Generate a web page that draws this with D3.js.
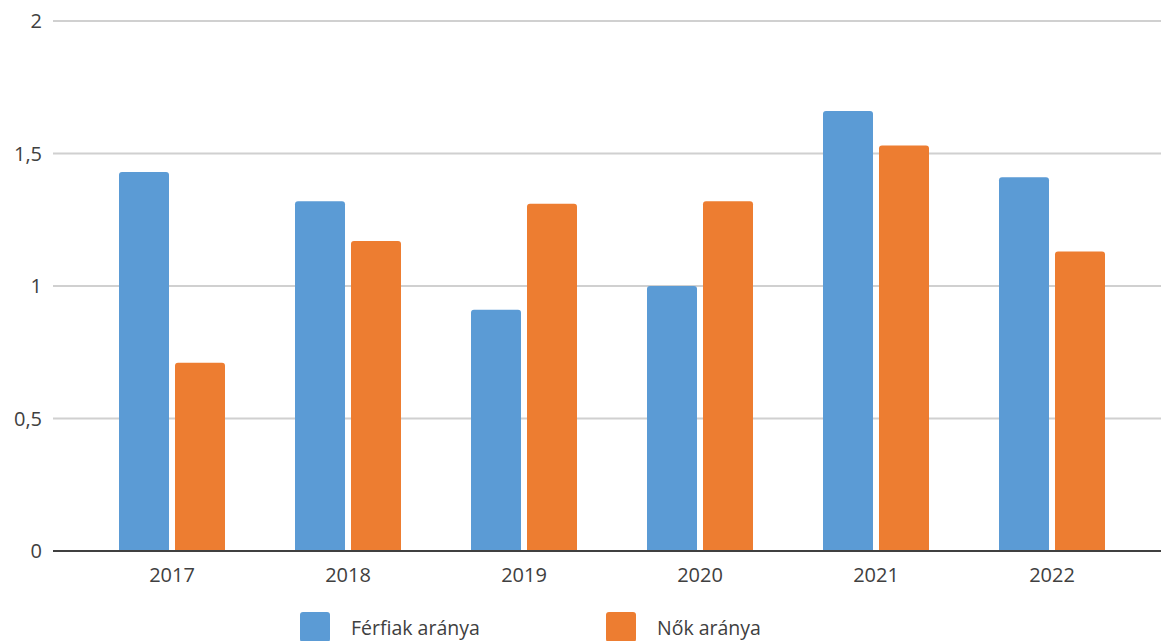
<!DOCTYPE html>
<html><head><meta charset="utf-8">
<script src="https://cdn.jsdelivr.net/npm/d3@7"></script>
<style>body{margin:0;background:#fff}svg{display:block}text{font-family:"Open Sans",sans-serif;fill:#404040}</style>
</head><body><svg id="c" width="1161" height="641"></svg>
<script>
const categories = ["2017","2018","2019","2020","2021","2022"];
const seriesNames = ["Férfiak aránya","Nők aránya"];
const ferfiak = [1.43, 1.32, 0.91, 1.0, 1.66, 1.41];
const nok = [0.71, 1.17, 1.31, 1.32, 1.53, 1.13];
const yTicks = [0, 0.5, 1, 1.5, 2];
const yTickLabels = ["0","0,5","1","1,5","2"];
const colors = ["#5B9BD5","#ED7D31"];

const svg = d3.select("#c");
const y = d3.scaleLinear().domain([0,2]).range([551,21]);
const x0 = d3.scaleBand().domain(categories).range([84,1140]).paddingInner(0).paddingOuter(0);
const x1 = d3.scaleBand().domain(seriesNames).range([35,141]).paddingInner(6/56).paddingOuter(0);
const gridL = 53, gridR = 1161;

svg.append("g").selectAll("line").data(yTicks.filter(t=>t>0)).join("line")
  .attr("x1",gridL).attr("x2",gridR).attr("y1",d=>y(d)).attr("y2",d=>y(d))
  .attr("stroke","#d0d0d0").attr("stroke-width",2);

svg.append("g").selectAll("text").data(yTicks).join("text")
  .attr("x",42).attr("y",d=>y(d)).attr("dy","0.35em").attr("text-anchor","end")
  .attr("font-size",20).text((d,i)=>yTickLabels[i]);

const data = categories.map((c,i)=>({cat:c, vals:[ferfiak[i], nok[i]]}));
function topRounded(x,yt,w,yb,r){
  r=Math.min(r,(yb-yt)/2,w/2);
  return `M${x},${yb}V${yt+r}Q${x},${yt} ${x+r},${yt}H${x+w-r}Q${x+w},${yt} ${x+w},${yt+r}V${yb}Z`;
}
const g = svg.append("g");
data.forEach(d=>{
  d.vals.forEach((v,j)=>{
    const bx = x0(d.cat)+x1(seriesNames[j]);
    g.append("path").attr("d",topRounded(bx,y(v),x1.bandwidth(),y(0),3)).attr("fill",colors[j]);
  });
});

svg.append("line").attr("x1",gridL).attr("x2",gridR).attr("y1",y(0)).attr("y2",y(0))
  .attr("stroke","#404040").attr("stroke-width",2);

svg.append("g").selectAll("text").data(categories).join("text")
  .attr("x",d=>x0(d)+x0.bandwidth()/2).attr("y",582).attr("text-anchor","middle")
  .attr("font-size",20).text(d=>d);

const legX = [300, 606];
const lg = svg.append("g");
seriesNames.forEach((s,i)=>{
  lg.append("rect").attr("x",legX[i]).attr("y",612).attr("width",30).attr("height",30).attr("rx",3).attr("fill",colors[i]);
  lg.append("text").attr("x",legX[i]+51).attr("y",635).attr("font-size",19.5).text(s);
});
</script></body></html>
